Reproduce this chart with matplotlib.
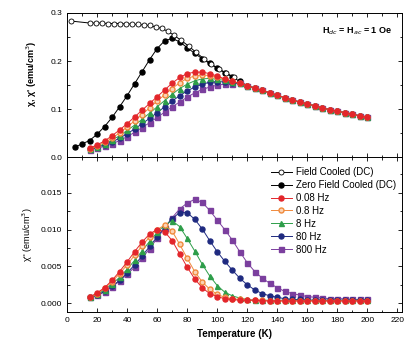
import numpy as np
import matplotlib
matplotlib.use("Agg")
from matplotlib import pyplot as plt
from matplotlib.ticker import MultipleLocator

plt.rcParams['font.family'] = ['Liberation Sans', 'DejaVu Sans']

# temperatures (K)
t_fc = [3, 15, 19, 23, 27, 31, 35, 39, 43, 47, 51, 55, 59, 63, 67, 71, 76, 81,
        86, 91, 96, 101, 106, 111]
t_zfc = list(range(5, 205, 5))
t_ac = list(range(15, 205, 5))

# DC susceptibility
chi_fc = [0.283, 0.279, 0.279, 0.279, 0.278, 0.278, 0.278, 0.277, 0.277, 0.276,
          0.275, 0.274, 0.271, 0.268, 0.262, 0.254, 0.243, 0.231, 0.218, 0.205,
          0.194, 0.184, 0.175, 0.167]
chi_zfc = [0.021, 0.028, 0.035, 0.048, 0.064, 0.083, 0.105, 0.128, 0.153, 0.178,
           0.203, 0.226, 0.242, 0.247, 0.240, 0.228, 0.216, 0.205, 0.195, 0.185,
           0.176, 0.167, 0.158, 0.149, 0.144, 0.139, 0.134, 0.129, 0.124, 0.119,
           0.115, 0.111, 0.107, 0.103, 0.099, 0.096, 0.093, 0.090, 0.086, 0.083]

# shared high-T tail of chi' (115..200 K)
tail = [0.154, 0.149, 0.144, 0.139, 0.134, 0.129, 0.124, 0.119, 0.115, 0.111,
        0.107, 0.103, 0.099, 0.096, 0.093, 0.090, 0.086, 0.083]

# chi' (in-phase), 15..110 K then tail
chi1_008 = [0.019, 0.026, 0.034, 0.045, 0.057, 0.070, 0.084, 0.098, 0.112, 0.126,
            0.140, 0.154, 0.166, 0.174, 0.177, 0.177, 0.174, 0.169, 0.163, 0.158] + tail
chi1_08 = [0.018, 0.024, 0.031, 0.040, 0.051, 0.063, 0.076, 0.089, 0.103, 0.117,
           0.130, 0.143, 0.155, 0.164, 0.169, 0.171, 0.170, 0.167, 0.162, 0.158] + tail
chi1_8 = [0.018, 0.022, 0.028, 0.036, 0.045, 0.056, 0.067, 0.079, 0.092, 0.105,
          0.118, 0.131, 0.143, 0.152, 0.159, 0.163, 0.164, 0.162, 0.160, 0.156] + tail
chi1_80 = [0.017, 0.021, 0.026, 0.032, 0.040, 0.049, 0.059, 0.070, 0.081, 0.093,
           0.105, 0.117, 0.128, 0.138, 0.146, 0.152, 0.156, 0.157, 0.157, 0.155] + tail
chi1_800 = [0.016, 0.019, 0.023, 0.028, 0.035, 0.043, 0.052, 0.062, 0.072, 0.083,
            0.094, 0.105, 0.115, 0.125, 0.134, 0.141, 0.146, 0.150, 0.152, 0.152] + tail

# chi'' (out-of-phase), 15..200 K
chi2_008 = [0.0008, 0.0014, 0.0021, 0.0031, 0.0043, 0.0056, 0.0070, 0.0083, 0.0094, 0.0100,
            0.0097, 0.0085, 0.0067, 0.0049, 0.0033, 0.0021, 0.0013, 0.0009, 0.0006, 0.0005,
            0.0004, 0.0004, 0.0004, 0.0003, 0.0003, 0.0003, 0.0003, 0.0003, 0.0003, 0.0003,
            0.0003, 0.0003, 0.0003, 0.0003, 0.0003, 0.0003, 0.0003, 0.0003]
chi2_08 = [0.0008, 0.0013, 0.0020, 0.0029, 0.0040, 0.0052, 0.0065, 0.0078, 0.0090, 0.0100,
           0.0106, 0.0098, 0.0080, 0.0061, 0.0043, 0.0029, 0.0019, 0.0012, 0.0008, 0.0006,
           0.0005, 0.0004, 0.0004, 0.0004, 0.0003, 0.0003, 0.0003, 0.0003, 0.0003, 0.0003,
           0.0003, 0.0003, 0.0003, 0.0003, 0.0003, 0.0003, 0.0003, 0.0003]
chi2_8 = [0.0008, 0.0012, 0.0018, 0.0026, 0.0035, 0.0046, 0.0058, 0.0071, 0.0084, 0.0096,
          0.0106, 0.0112, 0.0104, 0.0088, 0.0071, 0.0053, 0.0037, 0.0024, 0.0015, 0.0010,
          0.0007, 0.0005, 0.0004, 0.0004, 0.0004, 0.0004, 0.0004, 0.0004, 0.0004, 0.0004,
          0.0004, 0.0004, 0.0004, 0.0004, 0.0004, 0.0004, 0.0004, 0.0004]
chi2_80 = [0.0008, 0.0011, 0.0016, 0.0023, 0.0031, 0.0041, 0.0052, 0.0064, 0.0077, 0.0090,
           0.0103, 0.0115, 0.0123, 0.0123, 0.0114, 0.0101, 0.0085, 0.0070, 0.0057, 0.0045,
           0.0034, 0.0025, 0.0018, 0.0013, 0.0010, 0.0008, 0.0006, 0.0005, 0.0005, 0.0004,
           0.0004, 0.0004, 0.0004, 0.0004, 0.0004, 0.0004, 0.0004, 0.0004]
chi2_800 = [0.0008, 0.0011, 0.0015, 0.0022, 0.0030, 0.0039, 0.0049, 0.0061, 0.0074, 0.0088,
            0.0102, 0.0116, 0.0128, 0.0136, 0.0141, 0.0137, 0.0126, 0.0113, 0.0100, 0.0086,
            0.0070, 0.0055, 0.0043, 0.0034, 0.0027, 0.0021, 0.0016, 0.0013, 0.0011, 0.0009,
            0.0008, 0.0007, 0.0006, 0.0006, 0.0006, 0.0005, 0.0005, 0.0005]

labels = ["0.08 Hz", "0.8 Hz", "8 Hz", "80 Hz", "800 Hz"]
chi1 = [chi1_008, chi1_08, chi1_8, chi1_80, chi1_800]
chi2 = [chi2_008, chi2_08, chi2_8, chi2_80, chi2_800]
styles = [
    dict(color="#e3262b", marker="o", mfc="#e3262b", mec="#e3262b"),
    dict(color="#f08a3c", marker="o", mfc="#fbd3b4", mec="#f08a3c"),
    dict(color="#2e9e4a", marker="^", mfc="#2e9e4a", mec="#2e9e4a"),
    dict(color="#1f2a80", marker="o", mfc="#1f2a80", mec="#1f2a80"),
    dict(color="#7b3f9e", marker="s", mfc="#7b3f9e", mec="#7b3f9e"),
]

fig = plt.figure(figsize=(4.06, 3.49), dpi=100)
ax1 = fig.add_axes([0.165, 0.549, 0.825, 0.414])
ax2 = fig.add_axes([0.165, 0.106, 0.825, 0.443], sharex=ax1)

ms = 3.6
lw = 0.7
ax1.plot(t_zfc, chi_zfc, "-o", color="black", ms=ms, lw=lw)
ax1.plot(t_fc, chi_fc, "-o", color="black", mfc="white", ms=ms, lw=lw, mew=0.6)

handles = [
    ax2.plot([], [], "-o", color="black", mfc="white", ms=ms, lw=lw, mew=0.6,
             label="Field Cooled (DC)")[0],
    ax2.plot([], [], "-o", color="black", ms=ms, lw=lw, label="Zero Field Cooled (DC)")[0],
]
ac_handles = []
# draw high frequency first so the 0.08 Hz points sit on top
for i in range(4, -1, -1):
    ax1.plot(t_ac, chi1[i], "-", ms=ms, lw=lw, zorder=3 + (4 - i), **styles[i])
    h, = ax2.plot(t_ac, chi2[i], "-", ms=ms, lw=lw, label=labels[i],
                  zorder=3 + (4 - i), **styles[i])
    ac_handles.insert(0, h)
handles += ac_handles

ax1.set_xlim(0, 223)
ax1.set_ylim(0, 0.3)
ax2.set_ylim(-0.0012, 0.0198)

ax1.xaxis.set_major_locator(MultipleLocator(20))
ax1.xaxis.set_minor_locator(MultipleLocator(10))
ax1.yaxis.set_major_locator(MultipleLocator(0.1))
ax1.yaxis.set_minor_locator(MultipleLocator(0.05))
ax2.yaxis.set_major_locator(MultipleLocator(0.005))
ax2.yaxis.set_minor_locator(MultipleLocator(0.0025))

for ax in (ax1, ax2):
    ax.tick_params(which="both", direction="in", top=True, right=True,
                   labelsize=6, width=0.6)
    ax.tick_params(which="major", length=3)
    ax.tick_params(which="minor", length=1.8)
    for s in ax.spines.values():
        s.set_linewidth(0.7)
ax1.tick_params(labelbottom=False)
ax1.yaxis.set_major_formatter(plt.FuncFormatter(lambda v, p: f"{v:.1f}"))
ax2.yaxis.set_major_formatter(plt.FuncFormatter(lambda v, p: f"{v:.3f}"))

ax1.set_ylabel("χ, χ' (emu/cm$^3$)", fontsize=6.5, fontweight="bold")
ax2.set_ylabel("χ'' (emu/cm$^3$)", fontsize=6.5)
ax1.yaxis.set_label_coords(-0.085, 0.58)
ax2.yaxis.set_label_coords(-0.095, 0.5)
ax2.set_xlabel("Temperature (K)", fontsize=7, fontweight="bold", labelpad=4)

ax1.text(0.97, 0.87, "H$_{dc}$ = H$_{ac}$ = 1 Oe", transform=ax1.transAxes,
         ha="right", va="center", fontsize=6.5, fontweight="bold")

ax2.legend(handles=handles, loc="upper right", bbox_to_anchor=(1.0, 0.975),
           frameon=False, fontsize=7, handlelength=2.2, handletextpad=0.4,
           labelspacing=0.3, borderaxespad=0.2)

fig.savefig("out.png", dpi=100)
